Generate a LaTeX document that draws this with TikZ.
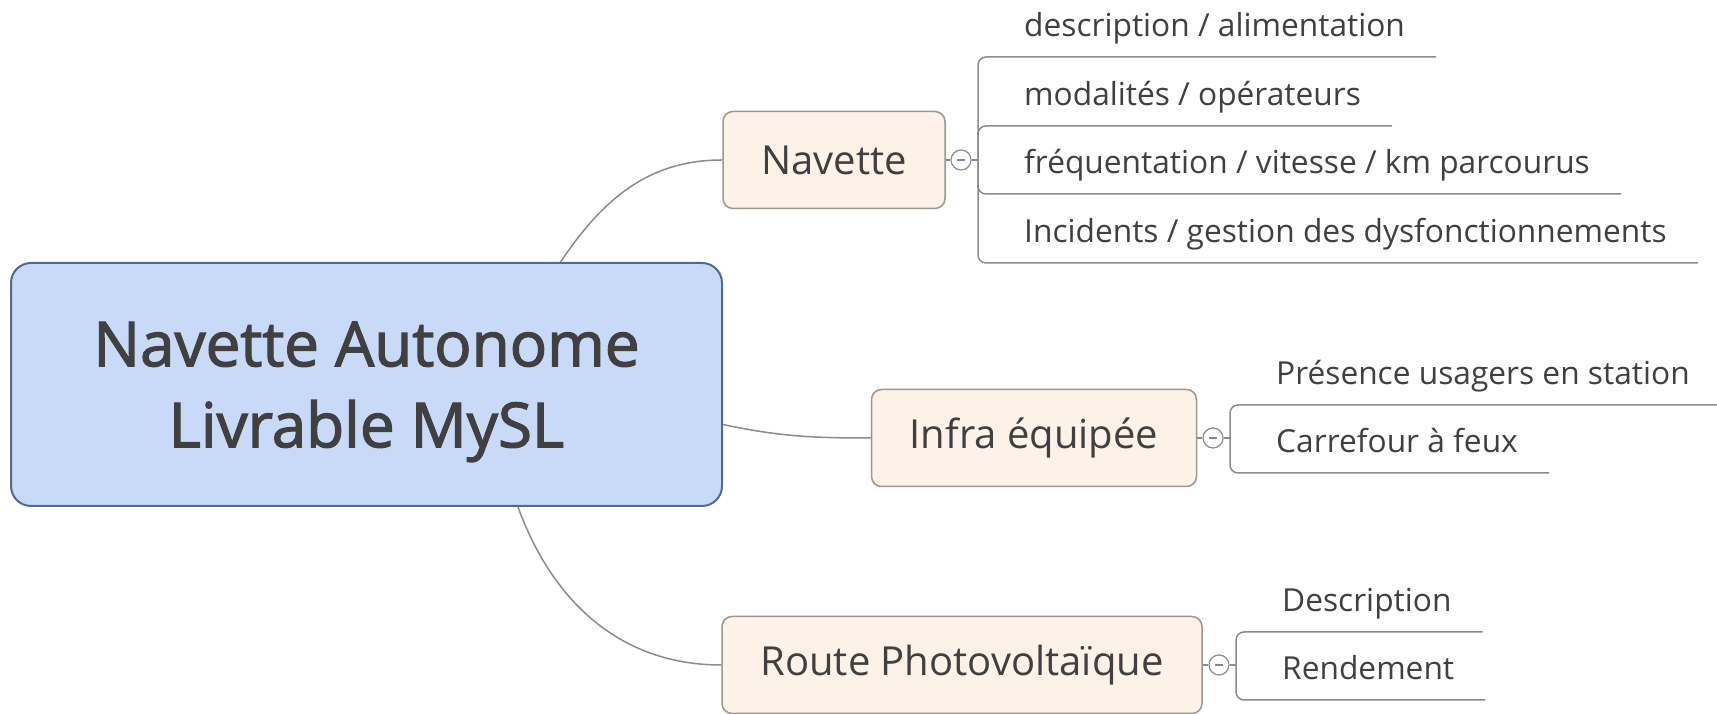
\documentclass[tikz,border=0pt]{standalone}
\usepackage{fontspec}
\setmainfont{Open Sans}
\newfontfamily\rootfont{Open Sans}[FakeBold=2]
\usepackage{xcolor}
\usepackage{tikz}
\usetikzlibrary{positioning}
\definecolor{rootfill}{RGB}{201,218,248}
\definecolor{rootline}{RGB}{80,105,150}
\definecolor{topicfill}{RGB}{253,242,232}
\definecolor{topicline}{RGB}{160,150,140}
\definecolor{linkgrey}{RGB}{140,140,140}
\definecolor{textgrey}{RGB}{64,64,64}
\definecolor{minusblue}{RGB}{120,130,190}
\newcommand{\togminus}{\textcolor{minusblue}{\rule{8pt}{1.2pt}}}
\tikzset{%
  root/.style   = {draw=rootline, fill=rootfill, line width=2pt, rounded corners=20pt,
    minimum width=711pt, minimum height=243pt, align=center, text=textgrey,
    text depth=0pt, font=\rootfont\fontsize{62}{81}\selectfont},
  topic/.style  = {draw=topicline, fill=topicfill, line width=1.5pt, rounded corners=10pt,
    minimum height=97pt, text=textgrey, font=\fontsize{40}{48}\selectfont},
  leaf/.style   = {anchor=base west, inner sep=0pt, text=textgrey,
    font=\fontsize{31.7}{38}\selectfont},
  toggle/.style = {draw=linkgrey, fill=white, circle, line width=1.2pt,
    minimum size=20pt, inner sep=0pt}, % collapse button
  branch/.style = {coordinate}, % bracket start
  link/.style   = {draw=linkgrey, line width=1.5pt}
}
\begin{document}
\begin{tikzpicture}[x=1pt, y=1pt]
	\useasboundingbox (0,0) rectangle (1717,714);

	\draw node at (366.5,329.5) [root] (root) {Navette Autonome\\Livrable MySL};

	\draw node at (834,554) [topic, minimum width=222pt] (nav) {Navette};
	\draw node at (1034,276) [topic, minimum width=325pt] (infra) {Infra équipée};
	\draw node at (962,49) [topic, minimum width=480pt] (route) {Route Photovoltaïque};

	\draw node [toggle, right of=nav, node distance = 127pt] (navt) {\togminus};
	\draw node [toggle, right of=infra, node distance = 179pt] (infrat) {\togminus};
	\draw node [toggle, right of=route, node distance = 257pt] (routet) {\togminus};

	\draw node [branch, right of=navt, node distance = 17pt] (navj) {};
	\draw node [branch, right of=infrat, node distance = 17pt] (infraj) {};
	\draw node [branch, right of=routet, node distance = 17pt] (routej) {};

	\draw node at (1024,677) [leaf] (navd) {description / alimentation};
	\draw node at (1024,608) [leaf] (navm) {modalités / opérateurs};
	\draw node at (1024,540) [leaf] (navf) {fréquentation / vitesse / km parcourus};
	\draw node at (1024,471) [leaf] (navi) {Incidents / gestion des dysfonctionnements};

	\draw node at (1276,329) [leaf] (infrap) {Présence usagers en station};
	\draw node at (1276,261) [leaf] (infrac) {Carrefour à feux};

	\draw node at (1282,102) [leaf] (routed) {Description};
	\draw node at (1282,34) [leaf] (router) {Rendement};

	\draw[link] ([xshift=194pt]root.north) to[out=56, in=180] (nav.west);
	\draw[link] ([yshift=-40pt]root.east) to[out=-12, in=180] (infra.west);
	\draw[link] ([xshift=151.5pt]root.south) to[out=-70, in=180] (route.west);

	\draw[link] (nav.east) -- (navt) -- (navj);
	\draw[link] (infra.east) -- (infrat) -- (infraj);
	\draw[link] (route.east) -- (routet) -- (routej);

	\foreach \leaf in {navd, navm, navf, navi}{% underlines
    \draw[link, rounded corners=8pt] (navj) |- ([shift={(31pt,-20pt)}]\leaf.base east);
}
	\foreach \leaf in {infrap, infrac}{
    \draw[link, rounded corners=8pt] (infraj) |- ([shift={(31pt,-20pt)}]\leaf.base east);
}
	\foreach \leaf in {routed, router}{
    \draw[link, rounded corners=8pt] (routej) |- ([shift={(31pt,-20pt)}]\leaf.base east);
}

\end{tikzpicture}
\end{document}
